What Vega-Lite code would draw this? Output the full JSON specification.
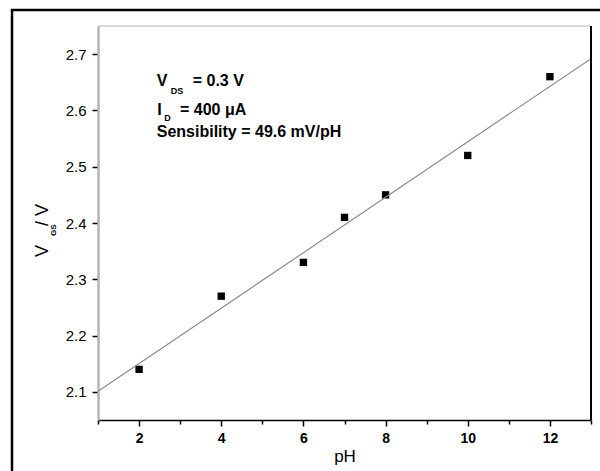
{
  "$schema": "https://vega.github.io/schema/vega-lite/v6.json",
  "width": 493,
  "height": 394,
  "autosize": {"type": "none"},
  "padding": {"left": 98, "top": 26, "right": 9, "bottom": 51},
  "background": "white",
  "config": {"view": {"stroke": null}, "font": "Liberation Sans"},
  "datasets": {
    "points": [
      {"pH": 2, "V": 2.14},
      {"pH": 4, "V": 2.27},
      {"pH": 6, "V": 2.33},
      {"pH": 7, "V": 2.41},
      {"pH": 8, "V": 2.45},
      {"pH": 10, "V": 2.52},
      {"pH": 12, "V": 2.66}
    ],
    "fit": [
      {"pH": 1, "V": 2.101},
      {"pH": 13, "V": 2.692}
    ],
    "ann": [
      {"pH": 2.43, "V": 2.6434, "t": "V", "part": "main"},
      {"pH": 3.305, "V": 2.6434, "t": "= 0.3 V", "part": "main"},
      {"pH": 2.44, "V": 2.5919, "t": "I", "part": "main"},
      {"pH": 2.996, "V": 2.5919, "t": "= 400 μA", "part": "main"},
      {"pH": 2.43, "V": 2.5523, "t": "Sensibility = 49.6 mV/pH", "part": "main"},
      {"pH": 2.77, "V": 2.6287, "t": "DS", "part": "sub"},
      {"pH": 2.614, "V": 2.5818, "t": "D", "part": "sub"}
    ],
    "ytitle": [
      {"pH": -0.217, "V": 2.3396, "t": "V", "part": "main"},
      {"pH": -0.217, "V": 2.3947, "t": "/ V", "part": "main"},
      {"pH": -0.022, "V": 2.3769, "t": "GS", "part": "sub"}
    ]
  },
  "layer": [
    {
      "data": {"name": "points"},
      "mark": {"type": "point", "shape": "square", "filled": true, "size": 54, "color": "black", "opacity": 1},
      "encoding": {
        "x": {
          "field": "pH", "type": "quantitative",
          "scale": {"domain": [1, 13], "nice": false, "zero": false},
          "axis": {
            "orient": "bottom",
            "values": [1, 2, 3, 4, 5, 6, 7, 8, 9, 10, 11, 12, 13],
            "labelExpr": "datum.value % 2 == 0 ? datum.label : ''",
            "labelOverlap": false,
            "grid": false,
            "domainColor": "black",
            "domainWidth": 1.5,
            "tickColor": "black",
            "tickWidth": 1.5,
            "tickSize": {"condition": {"test": "datum.value % 2 == 0", "value": 6}, "value": 4},
            "labelFont": "Liberation Sans",
            "labelFontSize": 14,
            "labelFontWeight": "bold",
            "labelColor": "black",
            "labelPadding": 5,
            "title": "pH",
            "titleFont": "Liberation Sans",
            "titleFontSize": 17,
            "titleFontWeight": "normal",
            "titleColor": "black",
            "titlePadding": 3
          }
        },
        "y": {
          "field": "V", "type": "quantitative",
          "scale": {"domain": [2.05, 2.75], "nice": false, "zero": false},
          "axis": {
            "orient": "left",
            "values": [2.1, 2.15, 2.2, 2.25, 2.3, 2.35, 2.4, 2.45, 2.5, 2.55, 2.6, 2.65, 2.7],
            "labelExpr": "abs(datum.value * 10 - round(datum.value * 10)) < 0.01 ? format(datum.value, '.1f') : ''",
            "labelOverlap": false,
            "grid": false,
            "domainColor": "#b4b4b4",
            "domainWidth": 2.5,
            "tickColor": "black",
            "tickWidth": 1.5,
            "tickSize": {"condition": {"test": "abs(datum.value * 10 - round(datum.value * 10)) < 0.01", "value": 6}, "value": 2.5},
            "labelFont": "Liberation Sans",
            "labelFontSize": 15,
            "labelColor": "black",
            "labelPadding": 6,
            "title": null
          }
        }
      }
    },
    {
      "data": {"name": "fit"},
      "mark": {"type": "line", "color": "#8c8c8c", "strokeWidth": 1.2},
      "encoding": {
        "x": {"field": "pH", "type": "quantitative"},
        "y": {"field": "V", "type": "quantitative"}
      }
    },
    {
      "data": {"values": [{}]},
      "mark": {"type": "rule", "color": "#b4b4b4", "strokeWidth": 1},
      "encoding": {
        "x": {"datum": 1, "type": "quantitative"},
        "x2": {"datum": 13},
        "y": {"datum": 2.75, "type": "quantitative"}
      }
    },
    {
      "data": {"values": [{}]},
      "mark": {"type": "rule", "color": "black", "strokeWidth": 2},
      "encoding": {
        "x": {"datum": 13, "type": "quantitative"},
        "y": {"datum": 2.05, "type": "quantitative"},
        "y2": {"datum": 2.75}
      }
    },
    {
      "data": {"values": [{}]},
      "mark": {"type": "rect", "fill": null, "stroke": "black", "strokeWidth": 2.5},
      "encoding": {
        "x": {"datum": -1.093, "type": "quantitative"},
        "x2": {"datum": 13.3},
        "y": {"datum": 2.7784, "type": "quantitative"},
        "y2": {"datum": 1.955}
      }
    },
    {
      "data": {"name": "ann"},
      "transform": [{"filter": "datum.part == 'main'"}],
      "mark": {"type": "text", "align": "left", "baseline": "alphabetic", "font": "Liberation Sans", "fontWeight": "bold", "fontSize": 16, "color": "black"},
      "encoding": {
        "x": {"field": "pH", "type": "quantitative"},
        "y": {"field": "V", "type": "quantitative"},
        "text": {"field": "t"}
      }
    },
    {
      "data": {"name": "ann"},
      "transform": [{"filter": "datum.part == 'sub'"}],
      "mark": {"type": "text", "align": "left", "baseline": "alphabetic", "font": "Liberation Sans", "fontWeight": "bold", "fontSize": 9, "color": "black"},
      "encoding": {
        "x": {"field": "pH", "type": "quantitative"},
        "y": {"field": "V", "type": "quantitative"},
        "text": {"field": "t"}
      }
    },
    {
      "data": {"name": "ytitle"},
      "transform": [{"filter": "datum.part == 'main'"}],
      "mark": {"type": "text", "align": "left", "baseline": "alphabetic", "angle": 270, "font": "Liberation Sans", "fontSize": 18, "color": "black"},
      "encoding": {
        "x": {"field": "pH", "type": "quantitative"},
        "y": {"field": "V", "type": "quantitative"},
        "text": {"field": "t"}
      }
    },
    {
      "data": {"name": "ytitle"},
      "transform": [{"filter": "datum.part == 'sub'"}],
      "mark": {"type": "text", "align": "left", "baseline": "alphabetic", "angle": 270, "font": "Liberation Sans", "fontWeight": "bold", "fontSize": 8, "color": "black"},
      "encoding": {
        "x": {"field": "pH", "type": "quantitative"},
        "y": {"field": "V", "type": "quantitative"},
        "text": {"field": "t"}
      }
    }
  ]
}
